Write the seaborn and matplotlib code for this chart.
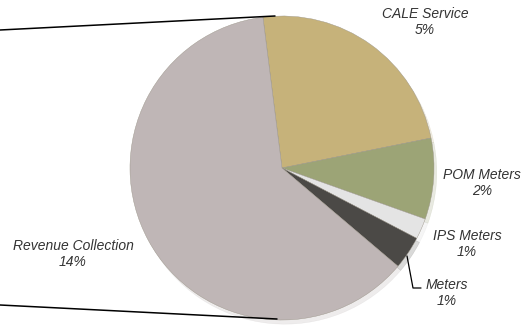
import matplotlib
matplotlib.use("Agg")
import matplotlib.pyplot as plt
import seaborn as sns

# Breakdown slice (second pie of a pie-of-pie), values in % of total
categories = ["CALE Service", "POM Meters", "IPS Meters", "Meters", "Revenue Collection"]
shares = [5.4, 1.95, 0.5, 0.8, 14.0]
slice_colors = ["#c6b27a", "#9ca476", "#e4e4e4", "#4b4946", "#bfb6b6"]

W, H = 522, 328

sns.set_theme(style="white")
plt.rcParams["font.family"] = ["Liberation Sans", "DejaVu Sans"]

fig = plt.figure(figsize=(W / 100, H / 100), dpi=100)
ax = fig.add_axes([0, 0, 1, 1])

palette = sns.color_palette(slice_colors)
cx, cy, r = 282, H - 168, 152

ax.pie(shares, colors=palette, startangle=97.2, counterclock=False,
       center=(cx, cy), radius=r, frame=True,
       wedgeprops=dict(linewidth=0.3, edgecolor="#9a9488"),
       shadow=dict(ox=2, oy=-3, shade=0.1, alpha=0.2))
ax.set_xlim(0, W)
ax.set_ylim(0, H)
ax.set_aspect("equal")
ax.axis("off")

# connector lines from the main pie (off to the left)
ax.plot([0, 275], [H - 30, H - 16], color="black", lw=1.1)
ax.plot([0, 277], [H - 305, H - 319], color="black", lw=1.1)

# leader line for the small "Meters" slice
ax.plot([407, 413, 421], [H - 256, H - 288, H - 288], color="black", lw=0.9)

label_pos = [(425, 22), (482, 183), (467, 244), (447, 293), (73, 254)]
for name, val, (x, y) in zip(categories, shares, label_pos):
    ax.text(x, H - y, f"{name}\n{int(val + 0.5)}%", ha="center", va="center",
            fontsize=10, style="italic", color="#333333", linespacing=1.25)

fig.savefig("out.png", dpi=100)
